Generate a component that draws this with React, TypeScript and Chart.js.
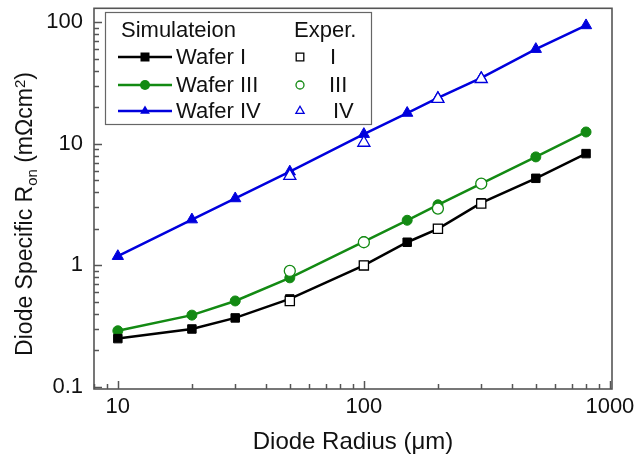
import React, { useEffect, useRef } from 'react';
import { Chart, registerables } from 'chart.js';

Chart.register(...registerables);

// ---- data ----
const RADIUS = [10, 20, 30, 50, 100, 150, 200, 300, 500, 800];
const SIM_WAFER_I = [0.25, 0.3, 0.37, 0.53, 1.0, 1.55, 2.0, 3.27, 5.2, 8.3];
const SIM_WAFER_III = [0.29, 0.39, 0.51, 0.79, 1.57, 2.35, 3.15, 4.7, 7.8, 12.5];
const SIM_WAFER_IV = [1.19, 2.38, 3.55, 5.9, 12.0, 17.9, 23.8, 34.8, 60, 94];

const EXP_RADIUS = [50, 100, 200, 300];
const EXP_WAFER_I = [0.51, 1.0, 2.0, 3.22];
const EXP_WAFER_III = [0.9, 1.55, 2.93, 4.7];
const EXP_WAFER_IV = [5.45, 10.2, 23.4, 34.1];

const X_TICKS = [10, 100, 1000];
const X_LABELS = ['10', '100', '1000'];
const Y_TICKS = [0.1, 1, 10, 100];
const Y_LABELS = ['0.1', '1', '10', '100'];

const SIM_LABELS = ['Wafer I', 'Wafer III', 'Wafer IV'];
const EXP_LABELS = ['I', 'III', 'IV'];

// ---- styles ----
const FONT = '"Liberation Sans", Arial, sans-serif';
const TEXT = '#111111';
const AXIS = '#555555';
const BLACK = '#000000';
const GREEN = '#138a13';
const BLUE = '#0000dd';
const COLORS = [BLACK, GREEN, BLUE];
const SHAPES = ['rect', 'circle', 'triangle'];

function marker(ctx: CanvasRenderingContext2D, shape: string, x: number, y: number, s: number) {
  ctx.beginPath();
  if (shape === 'rect') {
    ctx.rect(x - s, y - s, 2 * s, 2 * s);
  } else if (shape === 'circle') {
    ctx.arc(x, y, s, 0, Math.PI * 2);
  } else {
    const r = s * 1.25;
    ctx.moveTo(x, y - r);
    ctx.lineTo(x + r * Math.sin(Math.PI / 3), y + r / 2);
    ctx.lineTo(x - r * Math.sin(Math.PI / 3), y + r / 2);
    ctx.closePath();
  }
}

const decorPlugin = {
  id: 'decor',
  afterDatasetsDraw(chart: any) {
    const ctx: CanvasRenderingContext2D = chart.ctx;
    const { left, right, top, bottom } = chart.chartArea;
    const xs = chart.scales.x;
    const ys = chart.scales.y;
    ctx.save();

    // inward ticks
    ctx.strokeStyle = AXIS;
    ctx.lineWidth = 1.5;
    for (let e = -2; e <= 3; e++) {
      for (let m = 1; m <= 9; m++) {
        const v = m * Math.pow(10, e);
        const len = m === 1 ? 8 : 5;
        if (v >= xs.min && v <= xs.max) {
          const px = Math.round(xs.getPixelForValue(v)) + 0.5;
          ctx.beginPath();
          ctx.moveTo(px, bottom);
          ctx.lineTo(px, bottom - len);
          ctx.stroke();
        }
        if (v >= ys.min && v <= ys.max) {
          const py = Math.round(ys.getPixelForValue(v)) + 0.5;
          ctx.beginPath();
          ctx.moveTo(left, py);
          ctx.lineTo(left + len, py);
          ctx.stroke();
        }
      }
    }

    // frame
    ctx.strokeStyle = AXIS;
    ctx.lineWidth = 1.6;
    ctx.strokeRect(left, top, right - left, bottom - top);

    // legend
    const bx = 105, by = 12, bw = 266, bh = 112;
    ctx.fillStyle = '#ffffff';
    ctx.fillRect(bx, by, bw, bh);
    ctx.strokeStyle = '#666666';
    ctx.lineWidth = 1.2;
    ctx.strokeRect(bx + 0.5, by + 0.5, bw, bh);

    ctx.font = `22px ${FONT}`;
    ctx.fillStyle = TEXT;
    ctx.textBaseline = 'middle';
    ctx.textAlign = 'left';
    ctx.fillText('Simulateion', 121, 31);
    ctx.fillText('Exper.', 294, 31);

    const rows = [57, 85, 111];
    const expLabelX = [330, 329, 333];
    rows.forEach((ry, i) => {
      const c = COLORS[i];
      ctx.strokeStyle = c;
      ctx.lineWidth = 2.5;
      ctx.beginPath();
      ctx.moveTo(118, ry);
      ctx.lineTo(172, ry);
      ctx.stroke();
      ctx.fillStyle = c;
      marker(ctx, SHAPES[i], 145, ry, SHAPES[i] === 'circle' ? 5 : 4.5);
      ctx.fill();
      ctx.fillStyle = TEXT;
      ctx.fillText(SIM_LABELS[i], 176, ry + 1);

      ctx.strokeStyle = c;
      ctx.lineWidth = 1.3;
      marker(ctx, SHAPES[i], 300, ry, SHAPES[i] === 'circle' ? 4 : 3.8);
      ctx.stroke();
      ctx.fillStyle = TEXT;
      ctx.fillText(EXP_LABELS[i], expLabelX[i], ry + 1);
    });

    // x title
    ctx.font = `24px ${FONT}`;
    ctx.fillStyle = TEXT;
    ctx.textAlign = 'center';
    ctx.textBaseline = 'middle';
    ctx.fillText('Diode Radius (\u03bcm)', (left + right) / 2, 442);

    // y title (rotated, rich text)
    const parts: [string, number, number][] = [
      ['Diode Specific R', 23, 0],
      ['on', 15, 5],
      [' (m\u03a9cm', 23, 0],
      ['2', 15, -7],
      [')', 23, 0],
    ];
    ctx.textAlign = 'left';
    ctx.textBaseline = 'alphabetic';
    let total = 0;
    parts.forEach(([t, sz]) => {
      ctx.font = `${sz}px ${FONT}`;
      total += ctx.measureText(t).width;
    });
    ctx.translate(32, 214);
    ctx.rotate(-Math.PI / 2);
    let cx = -total / 2;
    parts.forEach(([t, sz, dy]) => {
      ctx.font = `${sz}px ${FONT}`;
      ctx.fillText(t, cx, dy);
      cx += ctx.measureText(t).width;
    });

    ctx.restore();
  },
};

const xy = (xsArr: number[], ysArr: number[]) => xsArr.map((x, i) => ({ x, y: ysArr[i] }));

export default function App() {
  const ref = useRef<HTMLCanvasElement>(null);

  useEffect(() => {
    const simSets = [SIM_WAFER_I, SIM_WAFER_III, SIM_WAFER_IV].map((vals, i) => ({
      label: 'Sim ' + SIM_LABELS[i],
      data: xy(RADIUS, vals),
      borderColor: COLORS[i],
      backgroundColor: COLORS[i],
      borderWidth: 2.5,
      pointStyle: SHAPES[i],
      pointRadius: SHAPES[i] === 'rect' ? 6 : SHAPES[i] === 'circle' ? 5 : 6.5,
      pointBorderWidth: 1,
      pointBackgroundColor: COLORS[i],
      pointBorderColor: COLORS[i],
      tension: 0,
      showLine: true,
      order: 2,
    }));
    const expSets = [EXP_WAFER_I, EXP_WAFER_III, EXP_WAFER_IV].map((vals, i) => ({
      label: 'Exp ' + EXP_LABELS[i],
      data: xy(EXP_RADIUS, vals),
      borderColor: COLORS[i],
      backgroundColor: '#ffffff',
      showLine: false,
      pointStyle: SHAPES[i],
      pointRadius: SHAPES[i] === 'rect' ? 6.5 : SHAPES[i] === 'circle' ? 5.5 : 7,
      pointBorderWidth: 1.3,
      pointBackgroundColor: '#ffffff',
      pointBorderColor: COLORS[i],
      order: 1,
    }));

    const chart = new Chart(ref.current as HTMLCanvasElement, {
      type: 'line',
      data: { datasets: [...expSets, ...simSets] as any },
      options: {
        responsive: false,
        animation: false,
        devicePixelRatio: 1,
        layout: { padding: { left: 0, right: 27, top: 7, bottom: 0 } },
        plugins: { legend: { display: false }, tooltip: { enabled: false }, title: { display: false } },
        scales: {
          x: {
            type: 'logarithmic',
            min: 8,
            max: 1020,
            grid: { display: false, drawTicks: false },
            border: { display: false },
            ticks: {
              font: { family: FONT, size: 22 },
              color: TEXT,
              padding: 5,
              autoSkip: false,
              maxRotation: 0,
              callback: (v: any) => {
                const k = X_TICKS.indexOf(Number(v));
                return k >= 0 ? X_LABELS[k] : '';
              },
            },
            afterBuildTicks: (s: any) => {
              s.ticks = X_TICKS.map((v) => ({ value: v }));
            },
            afterFit: (s: any) => {
              s.height = 73;
              s.paddingLeft = 0;
              s.paddingRight = 0;
            },
          },
          y: {
            type: 'logarithmic',
            min: 0.0963,
            max: 130,
            grid: { display: false, drawTicks: false },
            border: { display: false },
            ticks: {
              font: { family: FONT, size: 22 },
              color: TEXT,
              padding: 11,
              autoSkip: false,
              callback: (v: any) => {
                const k = Y_TICKS.findIndex((t) => Math.abs(t - Number(v)) < 1e-9);
                return k >= 0 ? Y_LABELS[k] : '';
              },
            },
            afterBuildTicks: (s: any) => {
              s.ticks = Y_TICKS.map((v) => ({ value: v }));
            },
            afterFit: (s: any) => {
              s.width = 94;
              s.paddingTop = 0;
              s.paddingBottom = 0;
            },
          },
        },
      } as any,
      plugins: [decorPlugin],
    });
    return () => chart.destroy();
  }, []);

  return (
    <div style={{ position: 'fixed', left: 0, top: 0, width: 639, height: 462, background: '#ffffff' }}>
      <canvas ref={ref} width={639} height={462} style={{ display: 'block' }} />
    </div>
  );
}
